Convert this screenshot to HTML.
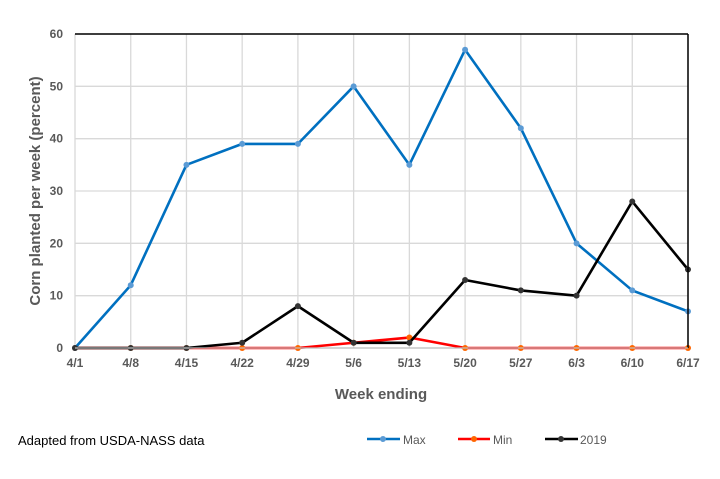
<!DOCTYPE html>
<html><head><meta charset="utf-8"><style>
body{margin:0;background:#fff;}
svg text{font-family:"Liberation Sans",Arial,sans-serif;}
</style></head><body>
<svg width="720" height="474" viewBox="0 0 720 474">
<g id="grid"></g>
<g id="series"></g>
<g id="axes"></g>
<text x="0" y="0" transform="translate(40,191) rotate(-90)" text-anchor="middle" font-size="15" font-weight="bold" fill="#595959">Corn planted per week (percent)</text>
<text x="381" y="399" text-anchor="middle" font-size="15" font-weight="bold" fill="#595959">Week ending</text>
<text x="18" y="445" font-size="13" fill="#000">Adapted from USDA-NASS data</text>
<g>
 <g><line x1="367" y1="439" x2="400" y2="439" stroke="#0070c0" stroke-width="2.5"/><circle cx="383" cy="439" r="3" fill="#5b9bd5"/><text x="403" y="444" font-size="12" fill="#595959">Max</text></g>
 <g><line x1="458" y1="439" x2="490" y2="439" stroke="#ff0000" stroke-width="2.5"/><circle cx="474" cy="439" r="3" fill="#ff6600"/><text x="493" y="444" font-size="12" fill="#595959">Min</text></g>
 <g><line x1="545" y1="439" x2="578" y2="439" stroke="#000" stroke-width="2.5"/><circle cx="561" cy="439" r="3" fill="#333"/><text x="580" y="444" font-size="12" fill="#595959">2019</text></g>
</g>
</svg>
<script>
const categories=["4/1","4/8","4/15","4/22","4/29","5/6","5/13","5/20","5/27","6/3","6/10","6/17"];
const maxValues=[0,12,35,39,39,50,35,57,42,20,11,7];
const minValues=[0,0,0,0,0,1,2,0,0,0,0,0];
const y2019Values=[0,0,0,1,8,1,1,13,11,10,28,15];
const yTicks=[0,10,20,30,40,50,60];
const NS="http://www.w3.org/2000/svg";
const L=75,R=688,T=34,B=348,YMAX=60;
function xs(i){return L+(R-L)*i/(categories.length-1);}
function ys(v){return B-(B-T)*v/YMAX;}
function mk(tag,attrs,parent){const e=document.createElementNS(NS,tag);for(const k in attrs)e.setAttribute(k,attrs[k]);parent.appendChild(e);return e;}
const grid=document.getElementById('grid'),axes=document.getElementById('axes'),series=document.getElementById('series');
yTicks.forEach(v=>{
 const l=mk('line',{x1:L,x2:R,y1:ys(v),y2:ys(v),stroke:'#d9d9d9','stroke-width':1.3},grid);
 
 
 const t=mk('text',{x:L-12,y:ys(v)+4,'text-anchor':'end','font-size':12,'font-weight':'bold',fill:'#595959'},axes);
 t.textContent=v;
 
 
});
categories.forEach((c,i)=>{
 const l=mk('line',{x1:xs(i),x2:xs(i),y1:T,y2:B,stroke:'#d9d9d9','stroke-width':1.3},grid);
 
 
 const t=mk('text',{x:xs(i),y:B+19,'text-anchor':'middle','font-size':12,'font-weight':'bold',fill:'#595959'},axes);
 t.textContent=c;
 
 
});
let a=mk('line',{x1:L,x2:R,y1:T,y2:T,stroke:'#000','stroke-width':1.5},axes);


a=mk('line',{x1:R,x2:R,y1:T,y2:B,stroke:'#000','stroke-width':1.5},axes);


a=mk('line',{x1:L,x2:R,y1:B,y2:B,stroke:'#bfbfbf','stroke-width':1.3},axes);


function draw(vals,stroke,mfill,name){
 const g=mk('g',{},series);
 
 
 const p=mk('polyline',{points:vals.map((v,i)=>xs(i)+','+ys(v)).join(' '),fill:'none',stroke:stroke,'stroke-width':2.6,'stroke-linejoin':'round'},g);
 
 
 vals.forEach((v,i)=>{const c=mk('circle',{cx:xs(i),cy:ys(v),r:3,fill:mfill},g);
  
  });
}
draw(minValues,'#ff0000','#ff6600','min');
draw(maxValues,'#0070c0','#5b9bd5','max');
draw(y2019Values,'#000000','#333333','y2019');
</script>
</body></html>
